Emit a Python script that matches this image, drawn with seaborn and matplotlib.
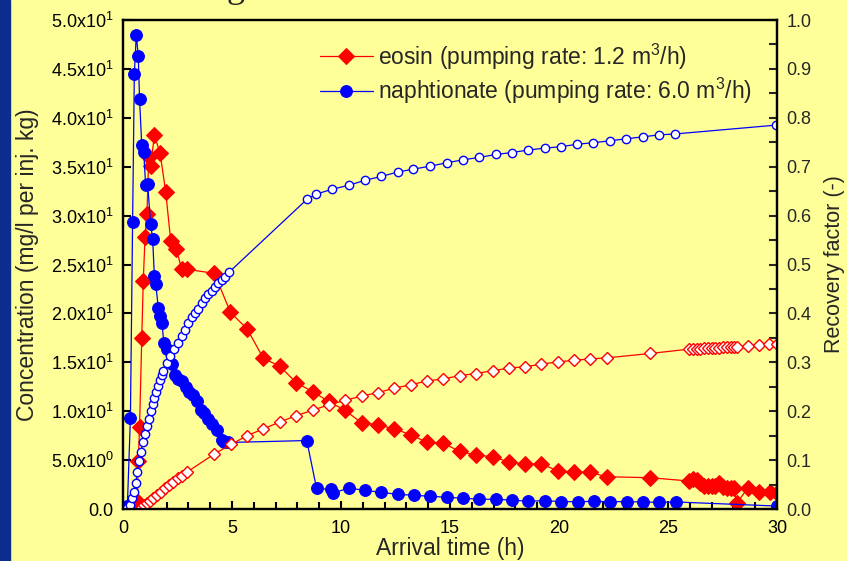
import numpy as np
import pandas as pd
import matplotlib
matplotlib.use("Agg")
import matplotlib.pyplot as plt
import seaborn as sns
from matplotlib.ticker import MultipleLocator, FixedLocator, FormatStrFormatter
from matplotlib.patches import Rectangle

# Eosin - concentration (filled diamonds)
eosin_t = [0.55, 0.66, 0.70, 0.76, 0.86, 0.93, 1.01, 1.10, 1.18, 1.27, 1.44, 1.70, 1.96,
           2.19, 2.45, 2.69, 2.94, 4.19, 4.93, 5.70, 6.44, 7.20, 7.95, 8.70, 9.43, 10.18,
           10.95, 11.70, 12.43, 13.20, 13.95, 14.69, 15.46, 16.19, 16.96, 17.69, 18.43,
           19.19, 19.95, 20.69, 21.42, 22.19, 24.17, 25.98, 26.16, 26.31, 26.47, 26.65,
           26.82, 27.00, 27.15, 27.34, 27.54, 27.72, 27.89, 28.04, 28.15, 28.65, 29.19,
           29.68, 29.98]
eosin_c = [0.1, 0.8, 4.9, 8.4, 17.5, 23.3, 27.8, 30.2, 36.0, 35.1, 38.2, 36.4, 32.4,
           27.4, 26.6, 24.5, 24.5, 24.1, 20.1, 18.4, 15.4, 14.6, 12.9, 12.0, 11.0, 10.1,
           8.8, 8.6, 8.2, 7.6, 6.8, 6.7, 5.9, 5.5, 5.35, 4.8, 4.6,
           4.6, 3.9, 3.8, 3.75, 3.3, 3.2, 2.86, 3.03, 2.96, 2.62, 2.35,
           2.35, 2.35, 2.35, 2.69, 2.21, 2.11, 2.11, 2.18, 0.58, 2.11, 1.74,
           1.74, 1.6]

# Eosin - recovery factor (open diamonds)
eosin_rt = [0.70, 0.78, 0.86, 0.98, 1.10, 1.24, 1.39, 1.58, 1.74, 1.93, 2.12, 2.31, 2.51,
            2.69, 2.95, 4.17, 4.95, 5.70, 6.44, 7.20, 7.95, 8.70, 9.43, 10.18, 10.95,
            11.70, 12.43, 13.20, 13.96, 14.69, 15.46, 16.19, 16.96, 17.69, 18.43, 19.19,
            19.95, 20.69, 21.42, 22.19, 24.17, 25.98, 26.16, 26.31, 26.47, 26.65, 26.82,
            27.00, 27.15, 27.34, 27.54, 27.72, 27.89, 28.04, 28.15, 28.65, 29.19, 29.64,
            30.0]
eosin_r = [0.001, 0.003, 0.005, 0.008, 0.012, 0.016, 0.022, 0.029, 0.034, 0.042, 0.050,
           0.056, 0.063, 0.068, 0.076, 0.112, 0.132, 0.150, 0.164, 0.178, 0.191, 0.202,
           0.213, 0.222, 0.231, 0.238, 0.247, 0.254, 0.262, 0.266, 0.273, 0.277, 0.283,
           0.288, 0.291, 0.296, 0.301, 0.304, 0.307, 0.309, 0.318, 0.327, 0.327, 0.328,
           0.328, 0.329, 0.329, 0.330, 0.330, 0.330, 0.331, 0.331, 0.331, 0.332, 0.332,
           0.333, 0.335, 0.337, 0.337]

# Naphthionate - concentration (filled circles)
naph_t = [0.10, 0.20, 0.34, 0.44, 0.52, 0.61, 0.70, 0.76, 0.86, 0.95, 1.04, 1.13, 1.27,
          1.36, 1.44, 1.50, 1.62, 1.71, 1.79, 1.87, 2.00, 2.23, 2.39, 2.51, 2.69, 2.88,
          3.03, 3.23, 3.38, 3.58, 3.73, 3.91, 4.10, 4.30, 4.53, 4.65, 4.80, 8.43, 8.88,
          9.55, 9.62, 10.35, 11.10, 11.85, 12.60, 13.35, 14.10, 14.85, 15.60, 16.35,
          17.10, 17.85, 18.60, 19.35, 20.10, 20.85, 21.60, 22.35, 23.10, 23.85, 24.60,
          25.35, 30.0]
naph_c = [0.1, 0.3, 9.3, 29.3, 44.5, 48.5, 46.3, 41.9, 37.2, 36.5, 33.1, 33.2, 29.1,
          27.6, 23.8, 23.0, 20.6, 19.7, 19.0, 17.0, 16.4, 14.8, 13.7, 13.3, 13.1, 12.5,
          12.0, 11.7, 11.0, 10.1, 9.8, 9.2, 8.7, 8.1, 7.1, 6.9, 6.8, 7.0, 2.1,
          2.0, 1.6, 2.15, 1.9, 1.7, 1.5, 1.4, 1.3, 1.2, 1.1, 1.0,
          1.0, 0.9, 0.8, 0.85, 0.75, 0.75, 0.78, 0.75, 0.75, 0.72, 0.68,
          0.72, 0.3]

# Naphthionate - recovery factor (open circles)
naph_rt = [0.10, 0.20, 0.32, 0.42, 0.50, 0.58, 0.66, 0.74, 0.81, 0.93, 1.01, 1.12, 1.21,
           1.28, 1.36, 1.44, 1.51, 1.59, 1.70, 1.77, 1.85, 2.00, 2.16, 2.35, 2.54, 2.69,
           2.84, 3.00, 3.15, 3.30, 3.46, 3.61, 3.76, 3.91, 4.07, 4.22, 4.37, 4.53, 4.68,
           4.86, 8.43, 8.87, 9.60, 10.36, 11.09, 11.84, 12.60, 13.32, 14.08, 14.85,
           15.58, 16.35, 17.11, 17.84, 18.58, 19.34, 20.11, 20.84, 21.58, 22.34, 23.07,
           23.84, 24.57, 25.33, 29.95]
naph_r = [0.0, 0.002, 0.008, 0.022, 0.035, 0.053, 0.076, 0.098, 0.117, 0.136, 0.153,
          0.170, 0.185, 0.201, 0.215, 0.228, 0.240, 0.252, 0.264, 0.274, 0.283, 0.299,
          0.313, 0.327, 0.340, 0.354, 0.366, 0.380, 0.393, 0.400, 0.410, 0.421, 0.431,
          0.439, 0.446, 0.455, 0.462, 0.468, 0.475, 0.484, 0.633, 0.644, 0.654, 0.662,
          0.672, 0.680, 0.689, 0.695, 0.701, 0.708, 0.714, 0.719, 0.725, 0.729, 0.734,
          0.738, 0.741, 0.746, 0.749, 0.753, 0.757, 0.761, 0.765, 0.767, 0.785]

left_ticks = [0, 5, 10, 15, 20, 25, 30, 35, 40, 45, 50]
left_labels = ["0.0", r"5.0x10$^{0}$", r"1.0x10$^{1}$", r"1.5x10$^{1}$", r"2.0x10$^{1}$",
               r"2.5x10$^{1}$", r"3.0x10$^{1}$", r"3.5x10$^{1}$", r"4.0x10$^{1}$",
               r"4.5x10$^{1}$", r"5.0x10$^{1}$"]

bg = "#FFFF99"
sns.set_style("ticks")
plt.rcParams["font.family"] = ["Liberation Sans", "DejaVu Sans"]
plt.rcParams["mathtext.fontset"] = "custom"
plt.rcParams["mathtext.rm"] = "Liberation Sans"
plt.rcParams["mathtext.it"] = "Liberation Sans:italic"
plt.rcParams["mathtext.bf"] = "Liberation Sans:bold"

fig = plt.figure(figsize=(8.47, 5.61), dpi=100, facecolor=bg)
ax = fig.add_axes([123 / 847, 1 - 509 / 561, 654 / 847, 489 / 561])
ax.set_facecolor(bg)
ax2 = ax.twinx()

# dark blue slide border on the left
fig.patches.append(Rectangle((0, 0), 10 / 847, 1, transform=fig.transFigure,
                             color="#0b2d8c", zorder=-1))
# cut-off title glyph at the top (as in the source slide)
fig.text(236 / 847, 1 + 3 / 561, "g", fontsize=26, family="Liberation Serif",
         ha="center", va="baseline")

eosin = pd.DataFrame({"t": eosin_t, "c": eosin_c})
naph = pd.DataFrame({"t": naph_t, "c": naph_c})
eosin_rec = pd.DataFrame({"t": eosin_rt, "r": eosin_r})
naph_rec = pd.DataFrame({"t": naph_rt, "r": naph_r})

sns.lineplot(data=eosin, x="t", y="c", ax=ax, color="red", marker="D", markersize=8,
             markeredgecolor="red", linewidth=0.9, estimator=None, sort=False,
             label=r"eosin (pumping rate: 1.2 m$^3$/h)")
sns.lineplot(data=naph, x="t", y="c", ax=ax, color="blue", marker="o", markersize=8.5,
             markeredgecolor="blue", linewidth=0.9, estimator=None, sort=False,
             label=r"naphtionate (pumping rate: 6.0 m$^3$/h)")

sns.lineplot(data=eosin_rec, x="t", y="r", ax=ax2, color="red", marker="D", markersize=6,
             markerfacecolor="white", markeredgecolor="red", markeredgewidth=1.0,
             linewidth=0.9, estimator=None, sort=False, legend=False)
sns.lineplot(data=naph_rec, x="t", y="r", ax=ax2, color="blue", marker="o", markersize=6,
             markerfacecolor="white", markeredgecolor="blue", markeredgewidth=1.0,
             linewidth=0.9, estimator=None, sort=False, legend=False)

ax.set_xlim(0, 30)
ax.set_ylim(0, 50)
ax2.set_ylim(0, 1.0)

ax.xaxis.set_major_locator(MultipleLocator(5))
ax.xaxis.set_minor_locator(MultipleLocator(1))
ax.yaxis.set_major_locator(FixedLocator(left_ticks))
ax.set_yticklabels(left_labels)
ax2.yaxis.set_major_locator(MultipleLocator(0.1))
ax2.yaxis.set_minor_locator(MultipleLocator(0.05))
ax2.yaxis.set_major_formatter(FormatStrFormatter("%.1f"))

for a in (ax, ax2):
    for s in a.spines.values():
        s.set_linewidth(1.6)
        s.set_color("black")
ax.tick_params(axis="both", which="both", direction="in", labelsize=13, width=1.5,
               top=False, right=False, colors="black")
ax.tick_params(axis="both", which="major", length=6)
ax.tick_params(axis="x", which="minor", length=5)
ax.tick_params(axis="y", pad=7)
ax.tick_params(axis="x", pad=8)
ax2.tick_params(axis="y", which="both", direction="in", labelsize=13, width=1.5, length=6,
                pad=7)

ax.set_xlabel("Arrival time (h)", fontsize=16.5, labelpad=0)
ax.set_ylabel("Concentration (mg/l per inj. kg)", fontsize=16.5, labelpad=8)
ax2.set_ylabel("Recovery factor (-)", fontsize=15.5, labelpad=9)

ax.legend(loc="upper left", bbox_to_anchor=(0.287, 0.975), borderaxespad=0,
          frameon=False, fontsize=16.5, handlelength=2.3, handletextpad=0.25,
          labelspacing=0.2)

fig.savefig("out.png", dpi=100, facecolor=bg)
